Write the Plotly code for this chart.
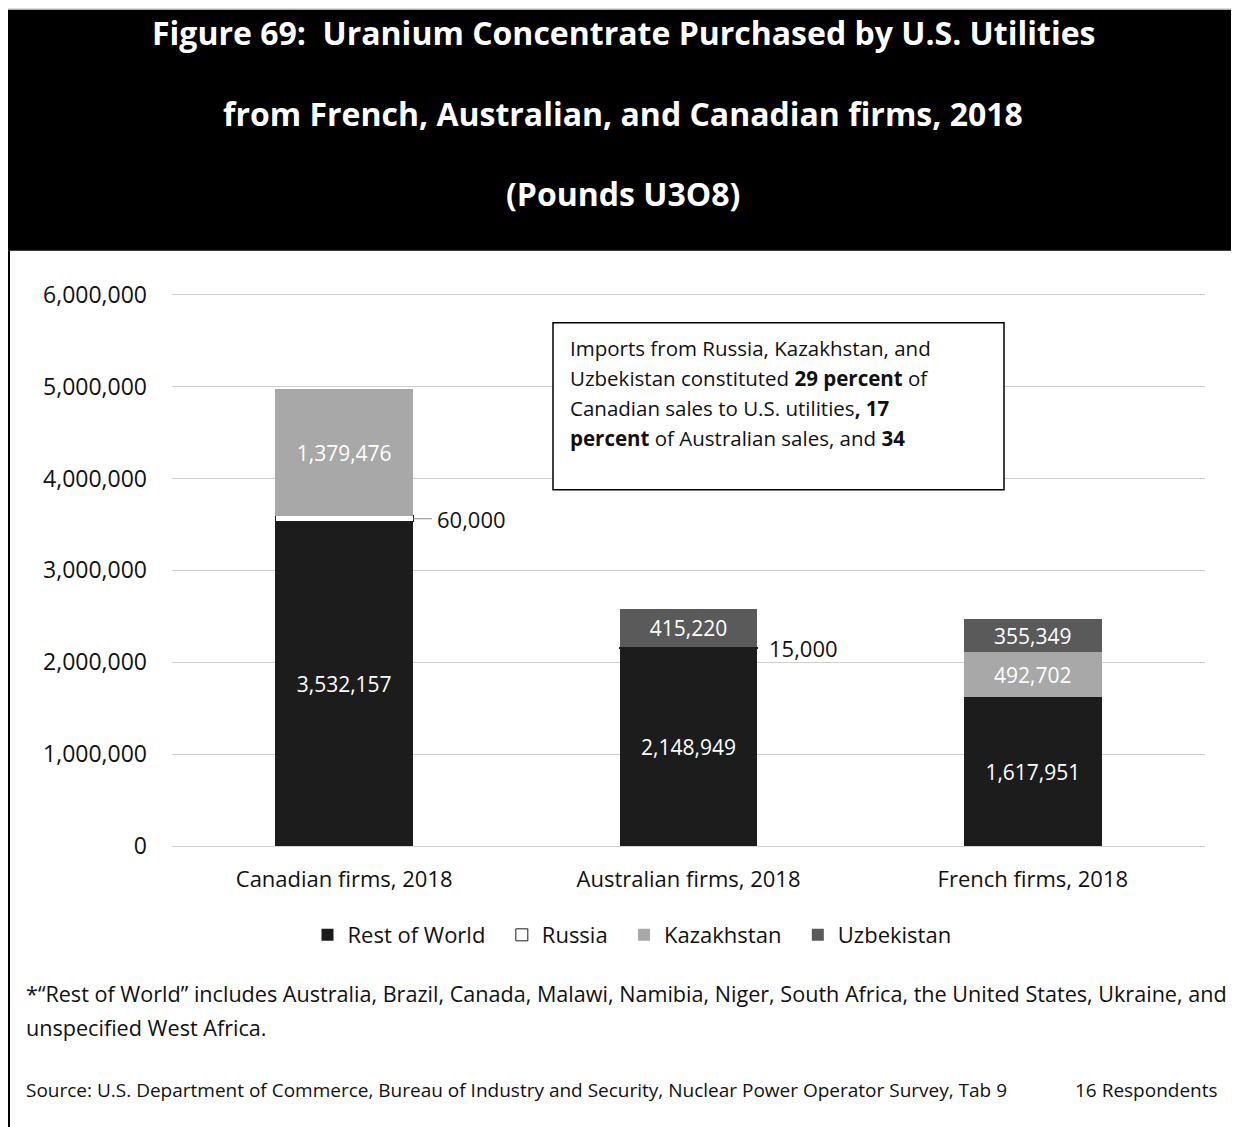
import plotly.graph_objects as go

categories = ["Canadian firms, 2018", "Australian firms, 2018", "French firms, 2018"]
series_names = ["Rest of World", "Russia", "Kazakhstan", "Uzbekistan"]
rest_of_world = [3532157, 2148949, 1617951]
russia = [60000, 15000, 0]
kazakhstan = [1379476, 0, 492702]
uzbekistan = [0, 415220, 355349]
ytick_vals = [0, 1000000, 2000000, 3000000, 4000000, 5000000, 6000000]

# page body margin offset (figure drawn at screen 8,8)
OFF = 8
W, H = 1239 - OFF, 1127 - OFF
YMAX = 6030000
PER_M = (846 - 295) / 6.0          # screen px per million
SL, SR, SB = 172, 1205, 846         # plot area in screen px
ST = SB - YMAX / 1e6 * PER_M

def px(x):
    return (x - SL) / (SR - SL)

def py(y):
    return (SB - y) / (SB - ST)

BODY = "Open Sans, Arial, sans-serif"
PAD = "\u00a0\u00a0"

def lbl(vals):
    return [f"{v:,}" if v > 0 else "" for v in vals]

fig = go.Figure()
fig.add_trace(go.Bar(name=series_names[0] + PAD, x=categories, y=rest_of_world,
                     marker=dict(color="#1c1c1c", line=dict(width=0)),
                     text=lbl(rest_of_world), textposition="inside", insidetextanchor="middle",
                     textfont=dict(color="white", size=21, family=BODY)))
fig.add_trace(go.Bar(name=series_names[1] + PAD, x=categories, y=russia,
                     marker=dict(color="white", line=dict(color="#1c1c1c", width=1)),
                     textposition="none"))
fig.add_trace(go.Bar(name=series_names[2] + PAD, x=categories, y=kazakhstan,
                     marker=dict(color="#a8a8a8", line=dict(width=0)),
                     text=lbl(kazakhstan), textposition="inside", insidetextanchor="middle",
                     textfont=dict(color="white", size=21, family=BODY)))
fig.add_trace(go.Bar(name=series_names[3], x=categories, y=uzbekistan,
                     marker=dict(color="#5a5a5a", line=dict(width=0)),
                     text=lbl(uzbekistan), textposition="inside", insidetextanchor="middle",
                     textfont=dict(color="white", size=21, family=BODY)))

shapes = []
annotations = []

# top grey strip and header band
shapes.append(dict(type="rect", xref="paper", yref="paper", x0=px(0), x1=px(1245), y0=py(10), y1=py(0),
                   fillcolor="#dcdcdc", line=dict(width=0), layer="below"))
shapes.append(dict(type="rect", xref="paper", yref="paper", x0=px(8), x1=px(1245), y0=py(251), y1=py(10),
                   fillcolor="black", line=dict(width=0), layer="below"))
# left border
shapes.append(dict(type="line", xref="paper", yref="paper", x0=px(9), x1=px(9), y0=py(251), y1=py(1130),
                   line=dict(color="black", width=2)))

titles = ["Figure 69:  Uranium Concentrate Purchased by U.S. Utilities",
          "from French, Australian, and Canadian firms, 2018",
          "(Pounds U3O8)"]
for t, yy in zip(titles, [33, 114, 194]):
    annotations.append(dict(text=f"<b>{t}</b>", xref="paper", yref="paper", x=px(623), y=py(yy),
                            xanchor="center", yanchor="middle", showarrow=False,
                            font=dict(family=BODY, size=32, color="white")))

# text box
shapes.append(dict(type="rect", xref="paper", yref="paper", x0=px(553), x1=px(1004), y0=py(490), y1=py(323),
                   fillcolor="white", line=dict(color="black", width=1.5)))
box_lines = ["Imports from Russia, Kazakhstan, and",
             "Uzbekistan constituted <b>29 percent</b> of",
             "Canadian sales to U.S. utilities<b>, 17</b>",
             "<b>percent</b> of Australian sales, and <b>34</b>"]
for t, yy in zip(box_lines, [348, 378, 408, 438]):
    annotations.append(dict(text=t, xref="paper", yref="paper", x=px(568), y=py(yy),
                            xanchor="left", yanchor="middle", showarrow=False,
                            font=dict(family=BODY, size=20.5, color="#111")))

# Russia outside labels
can_russia_mid = rest_of_world[0] + russia[0] / 2
shapes.append(dict(type="line", xref="x", yref="y", x0=0.2, x1=0.255, y0=can_russia_mid, y1=can_russia_mid,
                   line=dict(color="#888", width=1)))
annotations.append(dict(text=f"{russia[0]:,}", xref="x", yref="y", x=0.2, y=can_russia_mid,
                        xanchor="left", yanchor="middle", xshift=22, showarrow=False,
                        font=dict(family=BODY, size=22, color="#111")))
aus_russia_mid = rest_of_world[1] + russia[1] / 2
annotations.append(dict(text=f"{russia[1]:,}", xref="x", yref="y", x=1.2, y=aus_russia_mid,
                        xanchor="left", yanchor="middle", xshift=10, showarrow=False,
                        font=dict(family=BODY, size=22, color="#111")))

# footnotes
annotations.append(dict(text="*“Rest of World” includes Australia, Brazil, Canada, Malawi, Namibia, Niger, South Africa, the United States, Ukraine, and",
                        xref="paper", yref="paper", x=px(24), y=py(993), xanchor="left", yanchor="middle",
                        showarrow=False, font=dict(family=BODY, size=21.6, color="#111")))
annotations.append(dict(text="unspecified West Africa.",
                        xref="paper", yref="paper", x=px(24), y=py(1027), xanchor="left", yanchor="middle",
                        showarrow=False, font=dict(family=BODY, size=21.6, color="#111")))
annotations.append(dict(text="Source: U.S. Department of Commerce, Bureau of Industry and Security, Nuclear Power Operator Survey, Tab 9",
                        xref="paper", yref="paper", x=px(24), y=py(1090), xanchor="left", yanchor="middle",
                        showarrow=False, font=dict(family=BODY, size=19, color="#111")))
annotations.append(dict(text="16 Respondents",
                        xref="paper", yref="paper", x=px(1220), y=py(1090), xanchor="right", yanchor="middle",
                        showarrow=False, font=dict(family=BODY, size=19, color="#111")))

fig.update_layout(
    width=W, height=H,
    margin=dict(l=SL - OFF, r=W - (SR - OFF), t=ST - OFF, b=H - (SB - OFF), pad=0),
    barmode="stack", bargap=0.6,
    paper_bgcolor="white", plot_bgcolor="white",
    font=dict(family=BODY, color="#111"),
    showlegend=True,
    legend=dict(orientation="h", x=px(632), y=py(935), xanchor="center", yanchor="middle",
                font=dict(size=22, family=BODY, color="#111"), traceorder="normal",
                itemwidth=30, bgcolor="rgba(0,0,0,0)"),
    uniformtext=dict(minsize=21, mode="show"),
    shapes=shapes, annotations=annotations,
    xaxis=dict(showgrid=False, showline=False, ticks="", tickfont=dict(size=22, family=BODY, color="#111"),
               ticklabelstandoff=18),
    yaxis=dict(range=[0, YMAX], tickvals=ytick_vals, tickformat=",d", showgrid=True,
               gridcolor="#cfcfcf", gridwidth=1, zeroline=True, zerolinecolor="#cfcfcf", zerolinewidth=1,
               showline=False, ticks="", tickfont=dict(size=23, family=BODY, color="#111"),
               ticklabelstandoff=24),
)

fig.write_html("out.html")
